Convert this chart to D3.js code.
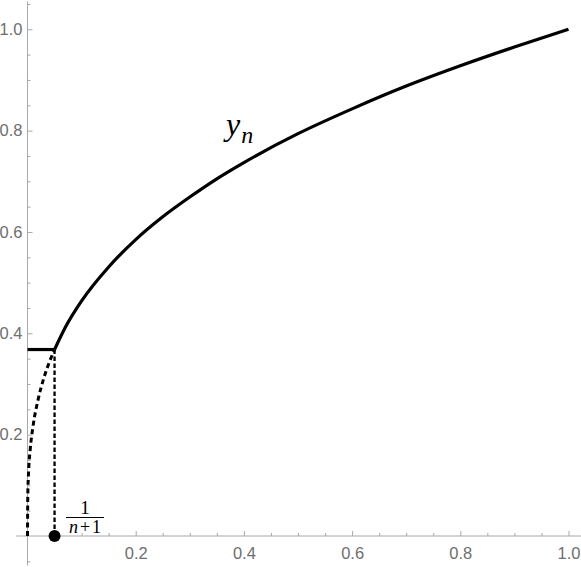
<!DOCTYPE html>
<meta charset="utf-8">
<style>
  body { margin: 0; background: #fff; }
  svg { display: block; }
</style>
<script src="https://d3js.org/d3.v7.min.js"></script>
<svg width="581" height="567"></svg>
<script>

// values
const xMajor = [0.2, 0.4, 0.6, 0.8, 1.0];
const yMajor = [0.2, 0.4, 0.6, 0.8, 1.0];
const xMinor = [0.05, 0.1, 0.15, 0.25, 0.3, 0.35, 0.45, 0.5, 0.55, 0.65, 0.7, 0.75, 0.85, 0.9, 0.95];
const yMinor = [-0.05, 0.05, 0.1, 0.15, 0.25, 0.3, 0.35, 0.45, 0.5, 0.55, 0.65, 0.7, 0.75, 0.85, 0.9, 0.95, 1.05];

// y_n, solid part
const solidX = [0.05, 0.07, 0.1, 0.15, 0.2, 0.25, 0.3, 0.35, 0.4, 0.5, 0.6, 0.7, 0.8, 0.9, 1.0];
const solidY = [0.368, 0.412, 0.464, 0.531, 0.585, 0.63, 0.669, 0.705, 0.737, 0.794, 0.843, 0.888, 0.928, 0.965, 1.0];
// dashed part below 1/(n+1)
const dashX = [0, 0.0005, 0.002, 0.005, 0.01, 0.02, 0.03, 0.04, 0.05];
const dashY = [0, 0.079, 0.126, 0.171, 0.215, 0.271, 0.311, 0.342, 0.368];

const cutX = 0.05;   // 1/(n+1)
const cutY = 0.368;  // level of the flat piece

var svg = d3.select("svg");

var x = d3.scaleLinear().domain([0, 1]).range([27.5, 568.5]);
var y = d3.scaleLinear().domain([0, 1]).range([536, 29.3]);

var axisColor = "#a8a8a8",
    labelColor = "#6e6e6e";

// axis lines
svg.append("line")
    .attr("x1", x(-0.021)).attr("x2", 581)
    .attr("y1", y(0)).attr("y2", y(0))
    .attr("stroke", axisColor);
svg.append("line")
    .attr("x1", x(0)).attr("x2", x(0))
    .attr("y1", y(1.055)).attr("y2", y(-0.058))
    .attr("stroke", axisColor);

// x ticks
svg.append("g")
    .attr("transform", "translate(0," + y(0) + ")")
    .call(d3.axisBottom(x).tickValues(xMajor).tickSize(-5).tickPadding(11).tickFormat(d3.format(".1f")));
svg.append("g")
    .attr("transform", "translate(0," + y(0) + ")")
    .call(d3.axisBottom(x).tickValues(xMinor).tickSize(-3).tickFormat(""));

// y ticks
svg.append("g")
    .attr("transform", "translate(" + x(0) + ",0)")
    .call(d3.axisLeft(y).tickValues(yMajor).tickSize(-5).tickPadding(5).tickFormat(d3.format(".1f")));
svg.append("g")
    .attr("transform", "translate(" + x(0) + ",0)")
    .call(d3.axisLeft(y).tickValues(yMinor).tickSize(-3).tickFormat(""));

svg.selectAll(".domain").remove();
svg.selectAll(".tick line").attr("stroke", axisColor);
svg.selectAll(".tick text")
    .attr("fill", labelColor)
    .style("font-family", "'Liberation Sans', Arial, sans-serif")
    .style("font-size", "16.5px");

var line = d3.line()
    .x(function(d) { return x(d[0]); })
    .y(function(d) { return y(d[1]); })
    .curve(d3.curveMonotoneX);

// dashed part of the curve
svg.append("path")
    .datum(d3.zip(dashX, dashY))
    .attr("d", line)
    .attr("fill", "none")
    .attr("stroke", "#000")
    .attr("stroke-width", 3)
    .attr("stroke-dasharray", "5,3.5");

// vertical dashed line at 1/(n+1)
svg.append("line")
    .attr("x1", x(cutX)).attr("x2", x(cutX))
    .attr("y1", y(0)).attr("y2", y(cutY))
    .attr("stroke", "#000")
    .attr("stroke-width", 2.3)
    .attr("stroke-dasharray", "4.5,2.5");

// flat piece
svg.append("line")
    .attr("x1", x(0)).attr("x2", x(cutX))
    .attr("y1", y(cutY)).attr("y2", y(cutY))
    .attr("stroke", "#000")
    .attr("stroke-width", 3.2);

// solid curve
svg.append("path")
    .datum(d3.zip(solidX, solidY))
    .attr("d", line)
    .attr("fill", "none")
    .attr("stroke", "#000")
    .attr("stroke-width", 3.2)
    .attr("stroke-linejoin", "round");

// point
svg.append("circle")
    .attr("cx", x(cutX))
    .attr("cy", y(0))
    .attr("r", 6)
    .attr("fill", "#000");

// label y_n
var lab = svg.append("text")
    .attr("x", 226)
    .attr("y", 135)
    .style("font-family", "'Liberation Serif', 'DejaVu Serif', serif")
    .style("font-style", "italic")
    .style("font-size", "32px");
lab.append("tspan").text("y");
lab.append("tspan").attr("dy", 8).attr("dx", 1).style("font-size", "24px").text("n");

// fraction 1/(n+1)
var fx = 85;
svg.append("text")
    .attr("x", fx).attr("y", 514)
    .attr("text-anchor", "middle")
    .style("font-family", "'Liberation Serif', 'DejaVu Serif', serif")
    .style("font-size", "19px")
    .text("1");
svg.append("line")
    .attr("x1", 66).attr("x2", 104)
    .attr("y1", 517.5).attr("y2", 517.5)
    .attr("stroke", "#000")
    .attr("stroke-width", 1);
var den = svg.append("text")
    .attr("x", fx).attr("y", 533)
    .attr("text-anchor", "middle")
    .style("font-family", "'Liberation Serif', 'DejaVu Serif', serif")
    .style("font-size", "18px");
den.append("tspan").style("font-style", "italic").text("n");
den.append("tspan").attr("dx", 2).text("+");
den.append("tspan").attr("dx", 2).text("1");

</script>
